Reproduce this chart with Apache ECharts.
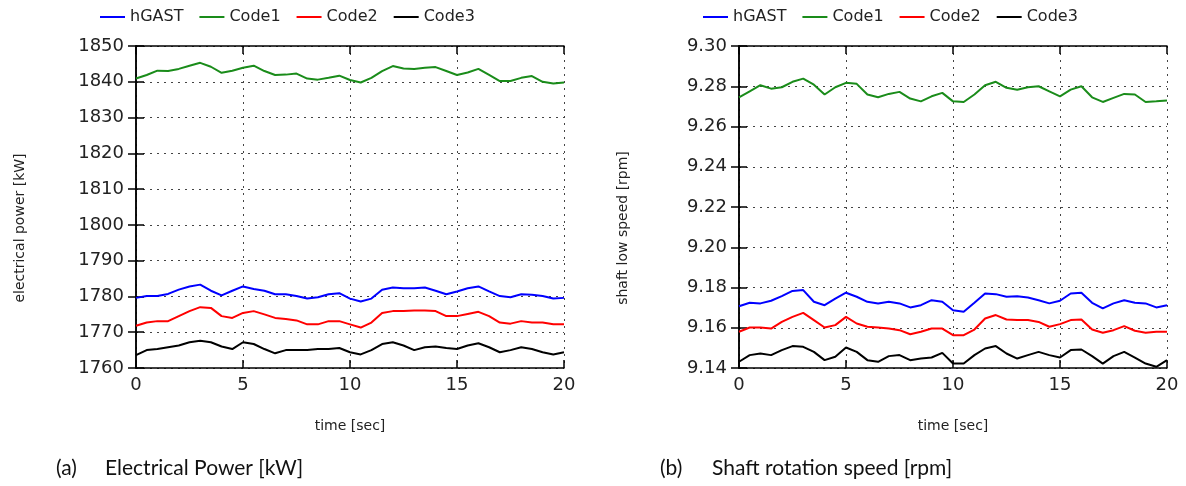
<!DOCTYPE html>
<html>
<head>
<meta charset="utf-8">
<script src="https://cdn.jsdelivr.net/npm/echarts@6/dist/echarts.min.js"></script>
<style>
html,body{margin:0;padding:0;background:#fff;}
#chart{width:1186px;height:486px;}
</style>
</head>
<body>
<div id="chart"></div>
<script>
// time axis (seconds), sampled every 0.5 s
const time = [0,0.5,1,1.5,2,2.5,3,3.5,4,4.5,5,5.5,6,6.5,7,7.5,8,8.5,9,9.5,10,10.5,11,11.5,12,12.5,13,13.5,14,14.5,15,15.5,16,16.5,17,17.5,18,18.5,19,19.5,20];
const seriesNames = ['hGAST','Code1','Code2','Code3'];
const xTicks = [0,5,10,15,20];

// (a) Electrical power [kW]
const powerHGAST = [1779.6,1780.1,1780.1,1780.7,1781.9,1782.8,1783.3,1781.6,1780.3,1781.6,1782.8,1782.1,1781.6,1780.6,1780.6,1780.1,1779.4,1779.8,1780.6,1780.9,1779.4,1778.6,1779.4,1781.9,1782.5,1782.3,1782.3,1782.5,1781.6,1780.6,1781.4,1782.3,1782.8,1781.4,1780.1,1779.8,1780.6,1780.5,1780.1,1779.4,1779.6];
const powerCode1 = [1840.9,1841.9,1843.1,1843.0,1843.6,1844.5,1845.3,1844.2,1842.5,1843.1,1843.9,1844.5,1843.0,1841.9,1842.0,1842.3,1840.9,1840.6,1841.1,1841.7,1840.5,1839.8,1841.1,1843.0,1844.4,1843.7,1843.6,1843.9,1844.1,1843.0,1841.9,1842.6,1843.6,1841.9,1840.2,1840.2,1841.1,1841.6,1840.0,1839.5,1839.8];
const powerCode2 = [1771.8,1772.7,1773.1,1773.1,1774.5,1775.9,1777.0,1776.8,1774.5,1774.0,1775.4,1775.9,1775.0,1774.0,1773.7,1773.3,1772.2,1772.2,1773.1,1773.1,1772.2,1771.3,1772.7,1775.4,1775.9,1775.9,1776.1,1776.1,1775.9,1774.5,1774.5,1775.1,1775.7,1774.5,1772.7,1772.4,1773.1,1772.7,1772.7,1772.2,1772.2];
const powerCode3 = [1763.6,1765.0,1765.3,1765.8,1766.3,1767.2,1767.6,1767.2,1766.0,1765.3,1767.2,1766.7,1765.3,1764.1,1765.0,1765.0,1765.0,1765.3,1765.3,1765.6,1764.4,1763.8,1765.0,1766.7,1767.2,1766.3,1765.0,1765.8,1766.0,1765.6,1765.3,1766.3,1766.9,1765.8,1764.4,1765.0,1765.8,1765.3,1764.4,1763.8,1764.4];
const powerTicks = [1760,1770,1780,1790,1800,1810,1820,1830,1840,1850];

// (b) Shaft rotation speed [rpm]
const speedHGAST = [9.1707,9.1724,9.1721,9.1734,9.1757,9.1783,9.1787,9.1729,9.1712,9.1745,9.1774,9.1754,9.1729,9.1721,9.1729,9.1721,9.1701,9.1712,9.1737,9.1729,9.1687,9.1679,9.1724,9.1770,9.1767,9.1754,9.1757,9.1750,9.1737,9.1721,9.1734,9.1770,9.1774,9.1724,9.1696,9.1721,9.1737,9.1724,9.1721,9.1701,9.1712];
const speedCode1 = [9.2745,9.2775,9.2805,9.2788,9.2795,9.2822,9.2838,9.2808,9.2759,9.2795,9.2817,9.2812,9.2759,9.2745,9.2762,9.2772,9.2739,9.2725,9.2750,9.2767,9.2725,9.2722,9.2759,9.2805,9.2822,9.2792,9.2783,9.2795,9.2800,9.2775,9.2750,9.2783,9.2800,9.2745,9.2722,9.2742,9.2762,9.2759,9.2722,9.2725,9.2729];
const speedCode2 = [9.1580,9.1601,9.1601,9.1596,9.1629,9.1654,9.1674,9.1638,9.1601,9.1613,9.1654,9.1621,9.1605,9.1601,9.1596,9.1588,9.1568,9.1580,9.1596,9.1596,9.1563,9.1563,9.1591,9.1646,9.1663,9.1641,9.1638,9.1638,9.1629,9.1605,9.1618,9.1638,9.1641,9.1591,9.1575,9.1588,9.1608,9.1585,9.1575,9.1580,9.1580];
const speedCode3 = [9.1431,9.1464,9.1472,9.1464,9.1489,9.1509,9.1505,9.1480,9.1439,9.1456,9.1502,9.1480,9.1439,9.1431,9.1459,9.1464,9.1439,9.1447,9.1452,9.1475,9.1422,9.1422,9.1464,9.1497,9.1509,9.1472,9.1447,9.1464,9.1480,9.1464,9.1452,9.1489,9.1492,9.1459,9.1422,9.1459,9.1480,9.1452,9.1422,9.1406,9.1439];
const speedTicks = [9.14,9.16,9.18,9.20,9.22,9.24,9.26,9.28,9.30];

const colors = ['#0000ff','#1a8c1a','#ff0000','#000000'];
const TXT = '#222';
const FONT = 'DejaVu Sans';

const chart = echarts.init(document.getElementById('chart'), null, {renderer:'canvas'});

function pairs(vals){ return time.map((t,i)=>[t, vals[i]]); }

const grids = [
  {left:136, top:46, width:428, height:322},
  {left:739, top:46, width:428, height:322}
];

function xAxes(gi){
  return [
    {gridIndex:gi, type:'value', min:xTicks[0], max:xTicks[xTicks.length-1], interval:5, position:'bottom',
     axisLine:{lineStyle:{color:'#000', width:1.5}},
     axisTick:{inside:true, length:8, lineStyle:{color:'#000', width:1.5}},
     axisLabel:{color:TXT, fontFamily:FONT, fontSize:18, margin:8},
     splitLine:{show:true, lineStyle:{color:'#444', type:[2,5], width:1}}},
    {gridIndex:gi, type:'value', min:xTicks[0], max:xTicks[xTicks.length-1], interval:5, position:'top',
     axisLine:{lineStyle:{color:'#000', width:1.5}},
     axisTick:{inside:true, length:8, lineStyle:{color:'#000', width:1.5}},
     axisLabel:{show:false}, splitLine:{show:false}}
  ];
}
function yAxes(gi, ticks, interval, decimals){
  const mn = ticks[0], mx = ticks[ticks.length-1];
  return [
    {gridIndex:gi, type:'value', min:mn, max:mx, interval:interval, position:'left',
     axisLine:{show:true, lineStyle:{color:'#000', width:1.5}},
     axisTick:{show:true, inside:true, length:8, lineStyle:{color:'#000', width:1.5}},
     axisLabel:{color:TXT, fontFamily:FONT, fontSize:18, margin:12,
       formatter:(v)=>v.toFixed(decimals)},
     splitLine:{show:true, lineStyle:{color:'#444', type:[2,5], width:1}}},
    {gridIndex:gi, type:'value', min:mn, max:mx, interval:interval, position:'right',
     axisLine:{show:true, lineStyle:{color:'#000', width:1.5}},
     axisTick:{show:true, inside:true, length:8, lineStyle:{color:'#000', width:1.5}},
     axisLabel:{show:false}, splitLine:{show:false}}
  ];
}

const powerData = [powerHGAST, powerCode1, powerCode2, powerCode3];
const speedData = [speedHGAST, speedCode1, speedCode2, speedCode3];

const series = [];
powerData.forEach((d,i)=>series.push({name:seriesNames[i], type:'line', xAxisIndex:0, yAxisIndex:0,
  data:pairs(d), showSymbol:false, symbol:'none', lineStyle:{color:colors[i], width:2}, itemStyle:{color:colors[i]}, animation:false}));
speedData.forEach((d,i)=>series.push({name:seriesNames[i], type:'line', xAxisIndex:2, yAxisIndex:2,
  data:pairs(d), showSymbol:false, symbol:'none', lineStyle:{color:colors[i], width:2}, itemStyle:{color:colors[i]}, animation:false}));

function legend(left){
  return {left:left, top:9, padding:0, data:seriesNames, icon:'rect', itemWidth:25, itemHeight:2, itemGap:16,
    textStyle:{color:TXT, fontFamily:FONT, fontSize:16}, selectedMode:false};
}

const option = {
  backgroundColor:'#fff',
  animation:false,
  legend:[legend(100), legend(703)],
  grid:grids,
  xAxis:[...xAxes(0), ...xAxes(1)],
  yAxis:[...yAxes(0, powerTicks, 10, 0), ...yAxes(1, speedTicks, 0.02, 2)],
  series:series,
  graphic:[
    {type:'text', position:[350,426], style:{text:'time [sec]', fill:TXT, font:'14px "DejaVu Sans"', textAlign:'center', textVerticalAlign:'middle'}},
    {type:'text', position:[953,426], style:{text:'time [sec]', fill:TXT, font:'14px "DejaVu Sans"', textAlign:'center', textVerticalAlign:'middle'}},
    {type:'text', position:[20,228], rotation:Math.PI/2, style:{text:'electrical power [kW]', fill:TXT, font:'14px "DejaVu Sans"', textAlign:'center', textVerticalAlign:'middle'}},
    {type:'text', position:[623,228], rotation:Math.PI/2, style:{text:'shaft low speed [rpm]', fill:TXT, font:'14px "DejaVu Sans"', textAlign:'center', textVerticalAlign:'middle'}},
    {type:'text', position:[56,468], style:{text:'(a)', fill:'#111', font:'21px Lato', textVerticalAlign:'middle'}},
    {type:'text', position:[105,468], style:{text:'Electrical Power [kW]', fill:'#111', font:'21px Lato', textVerticalAlign:'middle'}},
    {type:'text', position:[660,468], style:{text:'(b)', fill:'#111', font:'21px Lato', textVerticalAlign:'middle'}},
    {type:'text', position:[712,468], style:{text:'Shaft rotation speed [rpm]', fill:'#111', font:'21px Lato', textVerticalAlign:'middle'}}
  ]
};
chart.setOption(option);
</script>
</body>
</html>
